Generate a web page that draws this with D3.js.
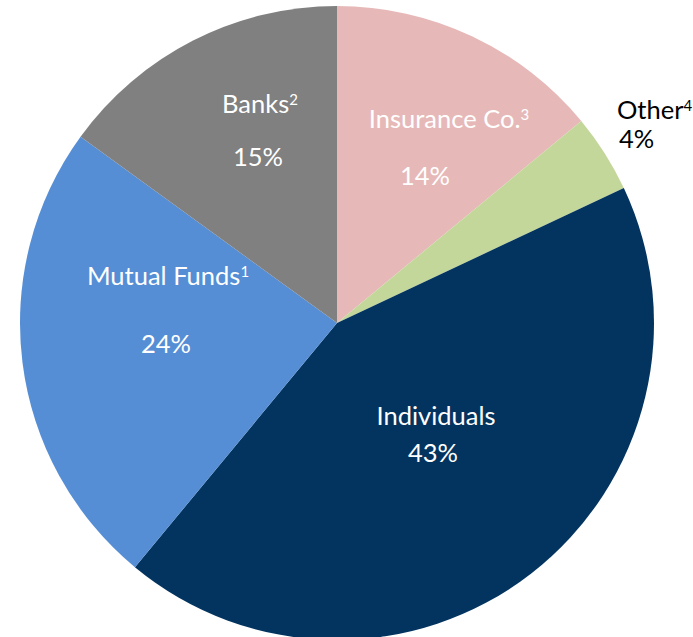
<!DOCTYPE html>
<html>
<head>
<meta charset="utf-8">
<script src="https://cdn.jsdelivr.net/npm/d3@7"></script>
<style>
  html, body { margin: 0; padding: 0; background: #fff; }
  svg { display: block; }
  text { font-family: Lato, "Open Sans", sans-serif; }
</style>
</head>
<body>
<svg id="chart" width="693" height="637"></svg>
<script>
// Ownership shares, clockwise from 12 o'clock
const categories = ["Insurance Co.", "Other", "Individuals", "Mutual Funds", "Banks"];
const footnotes  = ["3", "4", "", "1", "2"];
const shares     = [14, 4, 43, 24, 15];
const colors     = ["#E6B9B8", "#C4D79B", "#03345F", "#558ED5", "#808080"];

// Label placement relative to the pie centre: name line and percentage line
const labelLayout = {
  "Insurance Co.": { nx: 112,  ny: -195, px: 88,   py: -138, anchor: "middle", fill: "#fff" },
  "Other":         { nx: 280,  ny: -204, px: 282,  py: -175, anchor: "start",  fill: "#000" },
  "Individuals":   { nx: 99,   ny: 102,  px: 96,   py: 139,  anchor: "middle", fill: "#fff" },
  "Mutual Funds":  { nx: -169, ny: -38,  px: -171, py: 30,   anchor: "middle", fill: "#fff" },
  "Banks":         { nx: -77,  ny: -210, px: -79,  py: -157, anchor: "middle", fill: "#fff" }
};

const data = categories.map((c, i) => ({ name: c, note: footnotes[i], value: shares[i], color: colors[i] }));

const cx = 337, cy = 323, radius = 317;
const fontSize = 25.5;
const svg = d3.select("#chart");
const g = svg.append("g").attr("transform", `translate(${cx},${cy})`);

const pie = d3.pie().value(d => d.value).sort(null);
const arc = d3.arc().innerRadius(0).outerRadius(radius);

g.selectAll("path.slice")
  .data(pie(data))
  .join("path")
  .attr("class", "slice")
  .attr("d", arc)
  .attr("fill", d => d.data.color);

const labels = g.selectAll("g.label")
  .data(data)
  .join("g")
  .attr("class", "label");

const nameText = labels.append("text")
  .attr("x", d => labelLayout[d.name].nx)
  .attr("y", d => labelLayout[d.name].ny)
  .attr("text-anchor", d => labelLayout[d.name].anchor)
  .attr("font-size", fontSize)
  .attr("fill", d => labelLayout[d.name].fill);
nameText.append("tspan").text(d => d.name);
nameText.append("tspan")
  .attr("font-size", 15)
  .attr("dy", -8)
  .text(d => d.note);

labels.append("text")
  .attr("x", d => labelLayout[d.name].px)
  .attr("y", d => labelLayout[d.name].py)
  .attr("text-anchor", d => labelLayout[d.name].anchor)
  .attr("font-size", fontSize)
  .attr("fill", d => labelLayout[d.name].fill)
  .text(d => d3.format("d")(d.value) + "%");
</script>
</body>
</html>
